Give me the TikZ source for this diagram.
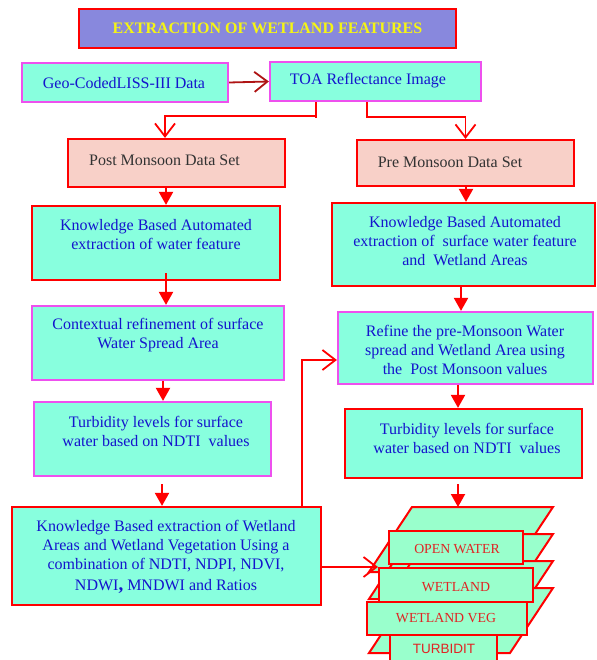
\documentclass[tikz,border=0pt]{standalone}
\usepackage{fontspec}
\setmainfont{Liberation Serif}
\newfontfamily\arialfont{Liberation Sans}
\usetikzlibrary{arrows.meta}
\definecolor{aqua}{RGB}{136,255,222}
\definecolor{stackg}{RGB}{153,255,204}
\definecolor{pinkfill}{RGB}{248,208,200}
\definecolor{titlefill}{RGB}{136,136,221}
\definecolor{magb}{RGB}{238,80,238}
\definecolor{blutext}{RGB}{20,20,205}
\definecolor{darkred}{RGB}{175,20,20}
\definecolor{graytext}{RGB}{50,50,50}
\definecolor{redtext}{RGB}{225,35,35}
\begin{document}
\begin{tikzpicture}[x=1pt,y=-1pt,
  redbox/.style={draw=red, line width=2.2pt, fill=aqua, inner sep=0pt},
  magbox/.style={draw=magb, line width=2.2pt, fill=aqua, inner sep=0pt},
  pinkbox/.style={draw=red, line width=2.2pt, fill=pinkfill, inner sep=0pt},
  txt/.style={text=blutext, align=center, inner sep=0pt, font=\fontsize{16}{19}\selectfont},
  gtxt/.style={text=graytext, inner sep=0pt, font=\fontsize{16}{19}\selectfont},
  stxt/.style={text=redtext, inner sep=0pt, font=\fontsize{13.8}{15}\selectfont},
  para/.style={draw=red, line width=2pt, fill=stackg, line join=miter},
  srect/.style={draw=red, line width=2.2pt, fill=stackg, inner sep=0pt},
  fa/.style={red, line width=2pt, -{Triangle[length=13pt,width=14pt]}},
  oa/.style={red, line width=1.8pt, -{Straight Barb[length=13pt,width=20pt]}},
  ln/.style={red, line width=1.8pt}]
\useasboundingbox (0,0) rectangle (596,660);
\fill[white] (0,0) rectangle (596,660);

% title
\node[draw=red, line width=2.5pt, fill=titlefill, text={rgb,255:red,245;green,245;blue,20},
      font=\fontsize{16}{18}\selectfont\bfseries, minimum width=377pt, minimum height=39pt, inner sep=0pt]
      (title) at (267.5,28.5) {EXTRACTION OF WETLAND FEATURES};

% top row
\node[magbox, minimum width=206pt, minimum height=39pt] (geo) at (125,82.5) {};
\node[txt] (geot) at (124,83) {Geo-CodedLISS-III Data};
\node[magbox, minimum width=211pt, minimum height=39pt] (toa) at (375.5,81.5) {};
\node[txt] (toat) at (368,81) {TOA Reflectance Image};

% data sets
\node[pinkbox, minimum width=217pt, minimum height=48pt] (post) at (176.5,163) {};
\node[gtxt] (postt) at (164.5,160) {Post Monsoon Data Set};
\node[pinkbox, minimum width=217pt, minimum height=46pt] (pre) at (465.5,163) {};
\node[gtxt] (pret) at (450,162) {Pre Monsoon Data Set};

% left column
\node[redbox, minimum width=248pt, minimum height=74pt] (kbl) at (156,243) {};
\node[txt] (kblt) at (156,234.5) {Knowledge Based Automated\\extraction of water feature};
\node[magbox, minimum width=252pt, minimum height=74pt] (ctx) at (158,343) {};
\node[txt] (ctxt) at (158,335.5) {Contextual refinement of surface\\Water Spread Area};
\node[magbox, minimum width=237pt, minimum height=74pt] (tbl) at (152.5,439) {};
\node[txt] (tblt) at (156,431) {Turbidity levels for surface\\water based on NDTI\ \ values};
\node[redbox, minimum width=309pt, minimum height=98pt] (kbb) at (166.5,556) {};
\node[txt] (kbbt) at (166,557) {Knowledge Based extraction of Wetland\\Areas and Wetland Vegetation Using a\\combination of NDTI, NDPI, NDVI,\\[2pt]NDWI{\fontsize{19}{19}\selectfont\bfseries ,} MNDWI and Ratios};

% right column
\node[redbox, minimum width=263pt, minimum height=83pt] (kbr) at (463.5,244.5) {};
\node[txt] (kbrt) at (465,241) {Knowledge Based Automated\\extraction of\ \ surface water feature\\and\ \ Wetland Areas};
\node[magbox, minimum width=255pt, minimum height=72pt] (ref) at (465.5,348) {};
\node[txt] (reft) at (465,349.5) {Refine the pre-Monsoon Water\\spread and Wetland Area using\\the\ \ Post Monsoon values};
\node[redbox, minimum width=237pt, minimum height=69pt] (tbr) at (463.5,443.5) {};
\node[txt] (tbrt) at (467,438.5) {Turbidity levels for surface\\water based on NDTI\ \ values};

% connectors top
\draw[darkred, line width=1.8pt, -{Straight Barb[length=13pt,width=20pt]}] (geo.east) -- (toa.west);
\draw[ln] ([xshift=-59.5pt]toa.south) -- ++(0,16);
\draw[oa] ([xshift=-59.5pt]toa.south) ++(0,14) -| ([xshift=-11.5pt]post.north);
\draw[oa] ([xshift=-8.5pt]toa.south) |- ++(0,15) -| (pre.north);

% filled arrows
\draw[fa] ([xshift=10pt]kbl.north |- post.south) -- ([xshift=10pt]kbl.north);
\draw[fa] ([xshift=2.5pt]kbr.north |- pre.south) -- ([xshift=2.5pt]kbr.north);
\draw[fa] ([xshift=8pt]ctx.north |- kbl.south) ++(0,-8) -- ([xshift=8pt]ctx.north);
\draw[fa] ([xshift=10.5pt]tbl.north |- ctx.south) -- ([xshift=10.5pt]tbl.north);
\draw[fa] ([xshift=-4.5pt]kbb.north |- tbl.south) ++(0,7) -- ([xshift=-4.5pt]kbb.north);
\draw[fa] ([xshift=-4.5pt]ref.north |- kbr.south) -- ([xshift=-4.5pt]ref.north);
\draw[fa] ([xshift=-5.5pt]tbr.north |- ref.south) -- ([xshift=-5.5pt]tbr.north);
\coordinate (stacktop) at (458,507);
\draw[fa] (stacktop |- tbr.south) ++(0,5) -- (stacktop);

% feedback connector
\draw[oa] ([xshift=-20pt]kbb.north east) |- ([yshift=-12pt]ref.west);

% stack of layers
\foreach \yy in {507,534,561,588}
  \draw[para] (412,\yy) -- (553,\yy) -- (510,\yy+65) -- (369,\yy+65) -- cycle;
\node[srect, minimum width=134pt, minimum height=33pt] (ow) at (456,547.5) {};
\node[stxt] (owt) at (457,549) {OPEN WATER};
\node[srect, minimum width=154pt, minimum height=34pt] (wl) at (456,585) {};
\node[stxt] (wlt) at (456,587) {WETLAND};
\node[srect, minimum width=160pt, minimum height=33pt] (wv) at (447,618.5) {};
\node[stxt] (wvt) at (446,618.5) {WETLAND VEG};
\node[srect, minimum width=107pt, minimum height=40pt] (tb) at (443.5,655) {};
\node[stxt, font=\arialfont\fontsize{13.5}{15}\selectfont] (tbt) at (444,649) {TURBIDIT};

% link from bottom-left box into stack
\coordinate (stackin) at (378,567);
\draw[oa] (kbb.east |- stackin) -- (stackin);
\end{tikzpicture}
\end{document}
